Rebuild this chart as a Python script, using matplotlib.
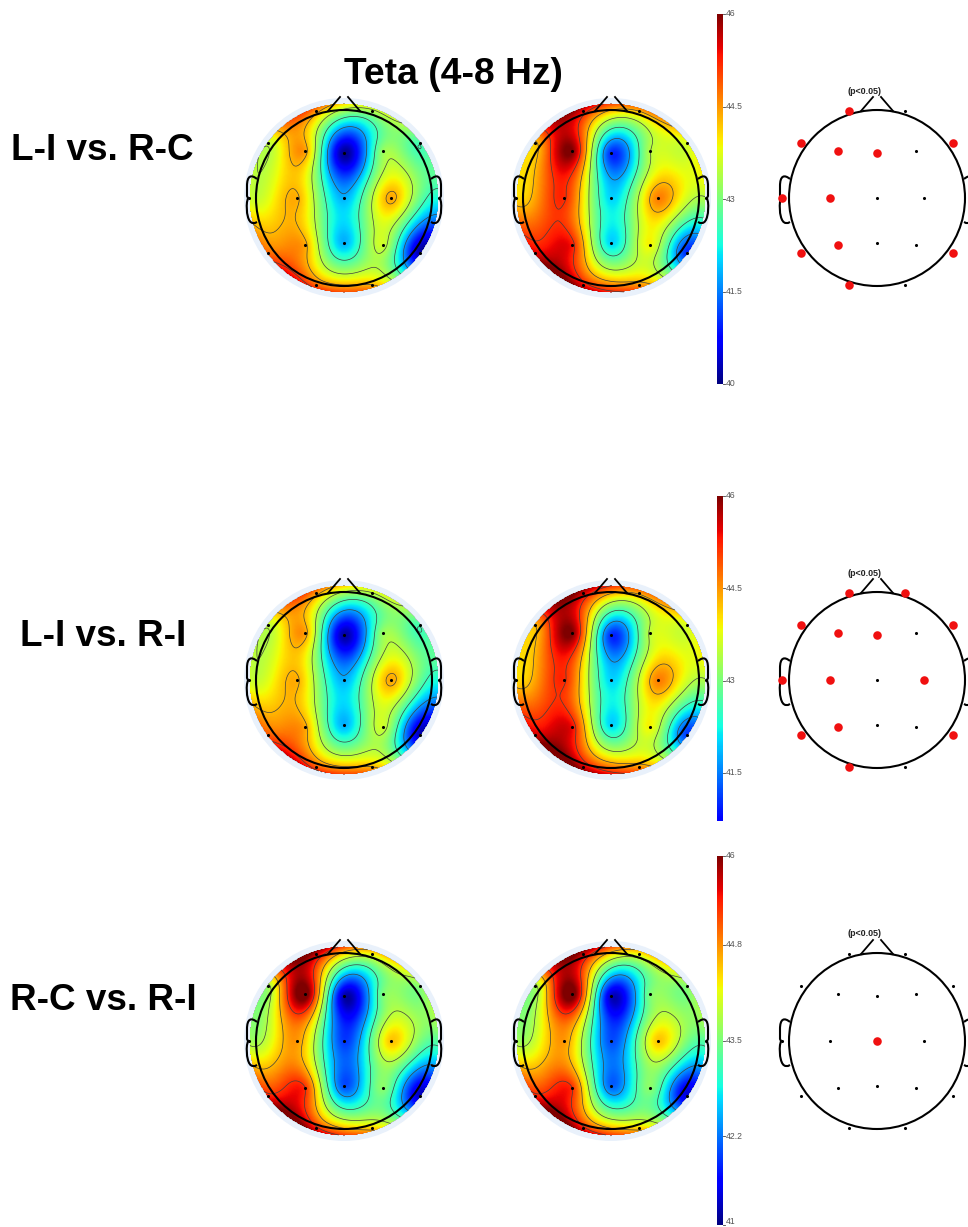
from matplotlib import pyplot as plt
from matplotlib.path import Path
from matplotlib.patches import Circle, PathPatch
import numpy as np

channels = ['Fp1', 'Fp2', 'F7', 'F3', 'Fz', 'F4', 'F8', 'T3', 'C3', 'Cz',
            'C4', 'T4', 'T5', 'P3', 'Pz', 'P4', 'T6', 'O1', 'O2']
chan_x = [-28, 28, -76, -39, 0, 39, 76, -95, -47, 0, 47, 95, -76, -39, 0, 39, 76, -28, 28]
chan_y = [-87, -87, -55, -47, -45, -47, -55, 0, 0, 0, 0, 0, 55, 47, 45, 47, 55, 87, 87]

# electrode values, same order as channels
row1_left = [44.5, 43.3, 43.5, 44.45, 40.1, 43.2, 42.6, 43.6, 44.35, 41.8, 44.4, 42.3, 44.8, 44.4, 41.8, 43.6, 40.2, 44.8, 44.3]
row1_mid = [45.4, 44.3, 44.2, 46.0, 41.0, 43.4, 43.7, 44.1, 45.2, 42.0, 44.65, 43.4, 45.5, 45.3, 42.0, 43.9, 41.0, 45.4, 44.5]
row2_left = [44.5, 43.4, 43.5, 44.45, 40.2, 43.2, 42.6, 43.6, 44.35, 41.8, 44.4, 42.3, 44.9, 44.4, 41.8, 43.6, 40.3, 44.9, 44.3]
row2_mid = [45.6, 44.4, 44.3, 46.0, 41.0, 43.5, 43.7, 44.1, 45.2, 42.0, 44.65, 43.4, 45.6, 45.4, 42.0, 43.9, 41.1, 45.6, 44.5]
row3_left = [45.7, 44.2, 43.75, 46.2, 41.2, 43.5, 43.6, 43.75, 44.75, 41.9, 44.5, 43.3, 45.4, 45.3, 42.0, 43.6, 41.3, 45.4, 44.4]
row3_mid = [45.7, 44.2, 43.75, 46.2, 41.3, 43.5, 43.6, 43.75, 44.75, 42.0, 44.5, 43.3, 45.4, 45.3, 42.1, 43.6, 41.4, 45.4, 44.4]

# channels with p<0.05 on the right hand heads
row1_sig = ['Fp1', 'F7', 'F3', 'Fz', 'F8', 'T3', 'C3', 'T4', 'T5', 'P3', 'T6', 'O1']
row2_sig = ['Fp1', 'Fp2', 'F7', 'F3', 'Fz', 'F8', 'T3', 'C3', 'C4', 'T4', 'T5', 'P3', 'T6', 'O1']
row3_sig = ['Cz']

row_names = ['L-I vs. R-C', 'L-I vs. R-I', 'R-C vs. R-I']
row1_ticks = [46, 44.5, 43, 41.5, 40]
row2_ticks = [46, 44.5, 43, 41.5]
row3_ticks = [46, 44.8, 43.5, 42.2, 41]

COL_X = [344, 611, 877]
ROW_Y = [198, 680, 1041]
HEAD_R = 88
DISC_R = 95
HALO_R = 100

plt.rcParams['font.family'] = ['Liberation Sans', 'DejaVu Sans']
fig = plt.figure(figsize=(9.68, 12.27), dpi=100)
ax = fig.add_axes([0, 0, 1, 1])


def green(r):
    # biharmonic spline kernel, what topoplot uses
    out = np.zeros_like(r)
    mask = r > 0
    out[mask] = r[mask] ** 2 * (np.log(r[mask]) - 1)
    return out


def build_map(values):
    # kernel is not scale free, work in head units (radius 0.5)
    scale = 0.5 / HEAD_R
    xs = np.array(chan_x, dtype=float) * scale
    ys = np.array(chan_y, dtype=float) * scale
    dist = np.hypot(xs[:, None] - xs[None, :], ys[:, None] - ys[None, :])
    weights = np.linalg.solve(green(dist), np.array(values))
    gx, gy = np.meshgrid(np.linspace(-DISC_R, DISC_R, 191), np.linspace(-DISC_R, DISC_R, 191))
    d = np.hypot(gx[:, :, None] * scale - xs, gy[:, :, None] * scale - ys)
    z = (green(d) * weights).sum(axis=2)
    return gx, gy, np.ma.masked_where(np.hypot(gx, gy) > DISC_R, z)


def draw_outline(cx, cy):
    ax.add_patch(Circle((cx, cy), HEAD_R, fill=False, ec='black', lw=1.5, zorder=5))
    # nose
    ax.plot([cx - 16, cx - 4], [cy - 87, cy - 101], color='black', lw=1.3, zorder=5)
    ax.plot([cx + 16, cx + 4], [cy - 87, cy - 101], color='black', lw=1.3, zorder=5)
    # ears
    for side in [-1, 1]:
        verts = [(cx + side * 87, cy - 19), (cx + side * 93, cy - 24), (cx + side * 97, cy - 22),
                 (cx + side * 97, cy - 12), (cx + side * 97, cy - 2), (cx + side * 96, cy),
                 (cx + side * 97, cy + 4), (cx + side * 98, cy + 14), (cx + side * 96, cy + 25),
                 (cx + side * 91, cy + 25), (cx + side * 89, cy + 25), (cx + side * 87, cy + 24)]
        codes = [Path.MOVETO] + [Path.CURVE4] * 3 + [Path.LINETO, Path.LINETO, Path.LINETO] + [Path.CURVE4] * 3 + [Path.LINETO, Path.LINETO]
        ax.add_patch(PathPatch(Path(verts, codes), fill=False, ec='black', lw=1.5, zorder=5))


def draw_topo(cx, cy, values, vmin, vmax):
    gx, gy, z = build_map(values)
    ax.add_patch(Circle((cx, cy), HALO_R, fc='#e9f1fb', ec='none', zorder=1))
    im = ax.imshow(z, extent=[cx - DISC_R, cx + DISC_R, cy + DISC_R, cy - DISC_R], cmap='jet',
                   vmin=vmin, vmax=vmax, interpolation='bilinear', zorder=2, aspect='auto')
    clip = Circle((cx, cy), DISC_R, transform=ax.transData)
    im.set_clip_path(clip)
    # the lowest level does not show in the reference
    levels = np.linspace(vmin, vmax, 8)[2:-1]
    ax.contour(gx + cx, gy + cy, z, levels=levels, colors='#404040', linewidths=0.5, zorder=3)
    draw_outline(cx, cy)
    ax.scatter(np.array(chan_x) + cx, np.array(chan_y) + cy, s=5, color='black', lw=0, zorder=6)


def draw_sig(cx, cy, sig):
    draw_outline(cx, cy)
    for name, dx, dy in zip(channels, chan_x, chan_y):
        if name in sig:
            ax.scatter(cx + dx, cy + dy, s=38, color='#f01010', lw=0, zorder=6)
        else:
            ax.scatter(cx + dx, cy + dy, s=5, color='black', lw=0, zorder=6)
    ax.text(cx - 13, cy - 107, '(p<0.05)', fontsize=6.4, fontweight='bold', color='#222222',
            ha='center', va='center')


def draw_bar(top, bottom, vtop, vbottom, vmin, ticks):
    # bottom/vbottom is where the strip ends, row 2 is cut off
    grad = np.linspace(vtop, vbottom, 256)[:, None]
    ax.imshow(grad, extent=[717, 722.5, bottom, top], cmap='jet', vmin=vmin, vmax=46,
              aspect='auto', zorder=2)
    for t in ticks:
        y = top + (vtop - t) / (vtop - vbottom) * (bottom - top)
        ax.plot([722.5, 724.5], [y, y], color='#444444', lw=0.6, zorder=3)
        # keep the last label inside the picture
        ax.text(725.5, min(y, 1222), str(t), fontsize=6.2, color='#555555', ha='left', va='center')


all_maps = [(row1_left, row1_mid, row1_sig, 40, 46), (row2_left, row2_mid, row2_sig, 40, 46),
            (row3_left, row3_mid, row3_sig, 41, 46)]
for cy, (left, mid, sig, vmin, vmax) in zip(ROW_Y, all_maps):
    draw_topo(COL_X[0], cy, left, vmin, vmax)
    draw_topo(COL_X[1], cy, mid, vmin, vmax)
    draw_sig(COL_X[2], cy, sig)

draw_bar(14, 384, 46, 40, 40, row1_ticks)
draw_bar(496, 821, 46, 40.72, 40, row2_ticks)
draw_bar(856, 1225, 46, 41, 41, row3_ticks)

ax.text(453, 75, 'Teta (4-8 Hz)', fontsize=26.8, fontweight='bold', ha='center', va='center')
ax.text(102.5, 150, row_names[0], fontsize=26.6, fontweight='bold', ha='center', va='center')
ax.text(103.5, 636, row_names[1], fontsize=26.6, fontweight='bold', ha='center', va='center')
ax.text(103, 1000, row_names[2], fontsize=26.6, fontweight='bold', ha='center', va='center')

ax.set_xlim(0, 968)
ax.set_ylim(1227, 0)
ax.axis('off')
fig.savefig('out.png', dpi=100)
